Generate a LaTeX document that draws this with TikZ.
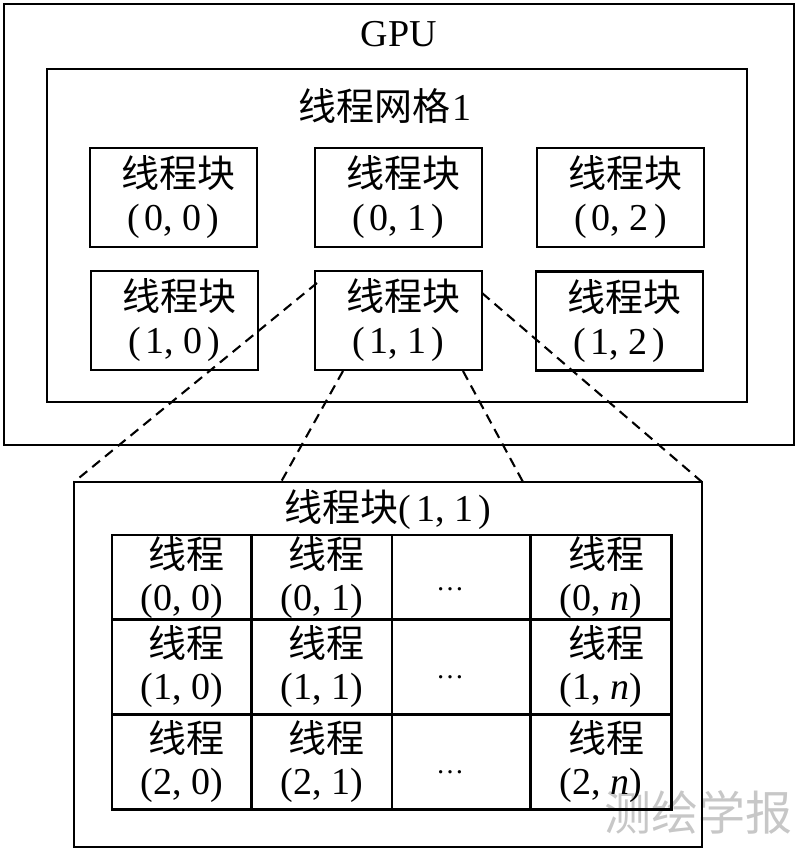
\documentclass[tikz,border=0pt]{standalone}
\usepackage{fontspec}
\setmainfont{Liberation Serif}
\newfontfamily\cjk{Noto Sans CJK SC}
\begin{document}
\begin{tikzpicture}[x=1pt,y=-1pt,
  frame/.style={draw=black,line width=2.3pt,inner sep=0pt,outer sep=0pt},
  blockbox/.style={frame,minimum width=167pt,minimum height=99pt,align=center,
    font=\fontsize{38}{43}\selectfont},
  cellbox/.style={frame,align=center,font=\fontsize{38}{42}\selectfont},
  dashline/.style={draw=black,line width=2.1pt,dash pattern=on 10pt off 6.5pt},
  lbl/.style={inner sep=0pt,font=\fontsize{38}{43}\selectfont},
  dotlbl/.style={inner sep=0pt,font=\fontsize{28}{30}\selectfont}]
\useasboundingbox (0,0) rectangle (800,854);
% watermark
\node[inner sep=0pt,text=black!22,font=\cjk\fontsize{47}{50}\selectfont] (wm) at (698,812) {测绘学报};
% GPU and grid
\node[frame,minimum width=790pt,minimum height=441pt,anchor=north west] (gpu) at (4,4) {};
\node[lbl] (gputitle) at (399,34) {GPU};
\node[frame,minimum width=700pt,minimum height=333pt,anchor=north west] (grid) at (47,69) {};
\node[lbl] (gridtitle) at (385,106) {{\cjk 线程网格}\kern2pt1};
% blocks
\node[blockbox] (b00) at (173.5,197.5) {\hspace*{10pt}{\cjk 线程块}\\(\kern5pt0, 0\kern5pt)};
\node[blockbox] (b01) at (398.5,197.5) {\hspace*{10pt}{\cjk 线程块}\\(\kern5pt0, 1\kern5pt)};
\node[blockbox] (b02) at (620.5,197.5) {\hspace*{10pt}{\cjk 线程块}\\(\kern5pt0, 2\kern5pt)};
\node[blockbox] (b10) at (174.5,320.5) {\hspace*{10pt}{\cjk 线程块}\\(\kern5pt1, 0\kern5pt)};
\node[blockbox] (b11) at (398.5,320.5) {\hspace*{10pt}{\cjk 线程块}\\(\kern5pt1, 1\kern5pt)};
\node[blockbox] (b12) at (619.5,321) {\hspace*{10pt}{\cjk 线程块}\\(\kern5pt1, 2\kern5pt)};
% expanded block
\node[frame,minimum width=628pt,minimum height=365pt,anchor=north west] (tb) at (74,482) {};
\node[lbl] (tbtitle) at (388,510) {{\cjk 线程块}(\kern5pt1, 1\kern5pt)};
% thread cells
\node[cellbox,minimum width=139.5pt,minimum height=84.5pt,anchor=north west] (t00) at (112,535) {\hspace*{10pt}{\cjk 线程}\\(0, 0)};
\node[cellbox,minimum width=140.5pt,minimum height=84.5pt,anchor=north west] (t01) at (251.5,535) {\hspace*{10pt}{\cjk 线程}\\(0, 1)};
\node[cellbox,minimum width=138.5pt,minimum height=84.5pt,anchor=north west] (t02) at (392,535) {};
\node[cellbox,minimum width=141pt,minimum height=84.5pt,anchor=north west] (t03) at (530.5,535) {\hspace*{10pt}{\cjk 线程}\\(0, \textit{n})};
\node[cellbox,minimum width=139.5pt,minimum height=95pt,anchor=north west] (t10) at (112,619.5) {\hspace*{10pt}{\cjk 线程}\\(1, 0)};
\node[cellbox,minimum width=140.5pt,minimum height=95pt,anchor=north west] (t11) at (251.5,619.5) {\hspace*{10pt}{\cjk 线程}\\(1, 1)};
\node[cellbox,minimum width=138.5pt,minimum height=95pt,anchor=north west] (t12) at (392,619.5) {};
\node[cellbox,minimum width=141pt,minimum height=95pt,anchor=north west] (t13) at (530.5,619.5) {\hspace*{10pt}{\cjk 线程}\\(1, \textit{n})};
\node[cellbox,minimum width=139.5pt,minimum height=95pt,anchor=north west] (t20) at (112,714.5) {\hspace*{10pt}{\cjk 线程}\\(2, 0)};
\node[cellbox,minimum width=140.5pt,minimum height=95pt,anchor=north west] (t21) at (251.5,714.5) {\hspace*{10pt}{\cjk 线程}\\(2, 1)};
\node[cellbox,minimum width=138.5pt,minimum height=95pt,anchor=north west] (t22) at (392,714.5) {};
\node[cellbox,minimum width=141pt,minimum height=95pt,anchor=north west] (t23) at (530.5,714.5) {\hspace*{10pt}{\cjk 线程}\\(2, \textit{n})};
% dots
\node[dotlbl] (d0) at (450,589) {…};
\node[dotlbl] (d1) at (450,677) {…};
\node[dotlbl] (d2) at (450,772) {…};
% dashed connectors from block (1,1) to its expansion
\coordinate (s1) at (317,283);
\coordinate (s2) at (343,371);
\coordinate (s3) at (463,371);
\coordinate (s4) at (482,293);
\coordinate (e2) at (281,482);
\coordinate (e3) at (523,482);
\draw[dashline] (s1) -- (tb.north west);
\draw[dashline] (s2) -- (e2);
\draw[dashline] (s3) -- (e3);
\draw[dashline] (s4) -- (tb.north east);
\end{tikzpicture}
\end{document}
